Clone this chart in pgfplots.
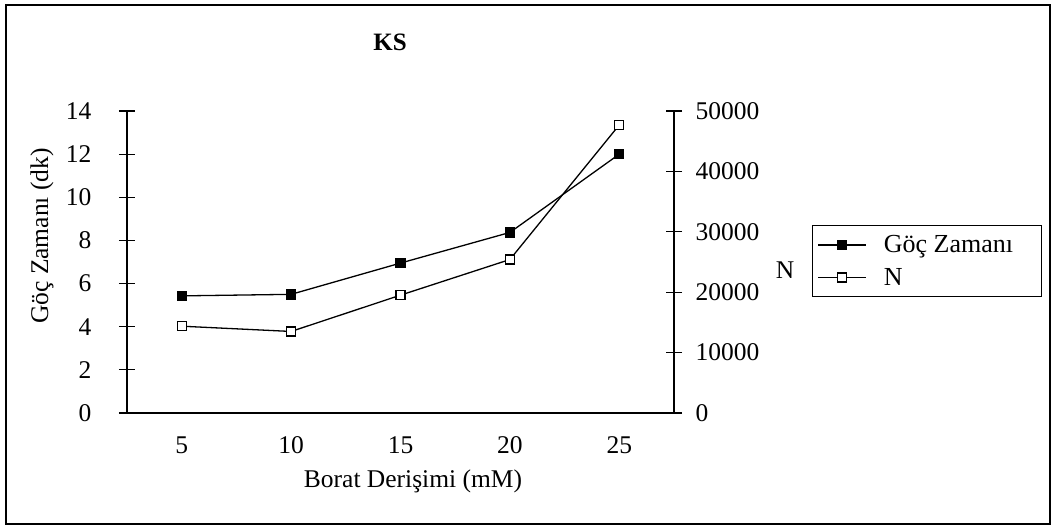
\documentclass[border=0pt]{standalone}
\usepackage{pgfplots}
\pgfplotsset{compat=1.18}
\usepackage{fontspec}
\setmainfont{Liberation Serif}

% Borat derisimi: 5,10,15,20,25 mM -> plotted at 1..5
\pgfplotstableread{
x goc
1 5.43
2 5.50
3 6.95
4 8.37
5 12.0
}\gocdata
\pgfplotstableread{
x N
1 14370
2 13500
3 19510
4 25410
5 47700
}\ndata

\begin{document}
\begin{tikzpicture}[font=\fontsize{25.5bp}{30bp}\selectfont]
\path[use as bounding box] (0,0) rectangle (1052bp,525bp);
\draw[line width=1.4bp] (6bp,1bp) rectangle (1050bp,520bp);

\pgfplotsset{
  every tick label/.append style={font=\fontsize{25.5bp}{30bp}\selectfont},
  /pgf/number format/assume math mode=true,
  /pgf/number format/1000 sep={},
}

\begin{axis}[
  at={(127bp,112bp)}, anchor=south west,
  scale only axis, width=547bp, height=302bp,
  xmin=0.5, xmax=5.5, ymin=0, ymax=14,
  axis x line*=bottom, axis y line*=left,
  axis line style={line width=1.1bp, -},
  xtick={1,...,5}, xticklabels={5,10,15,20,25},
  xtick style={draw=none},
  minor xtick={0.5,1.5,...,5.5},
  ytick={0,2,...,14},
  tick align=center, major tick length=16bp, minor tick length=16bp,
  every tick/.style={black, line width=1.1bp},
  xticklabel style={yshift=-12bp},
  yticklabel style={xshift=-24bp},
  clip=false,
]
\addplot[black, line width=1.3bp, mark=square*, mark size=4.5bp,
  mark options={fill=black}] table[x=x, y=goc] {\gocdata};
\end{axis}

\begin{axis}[
  at={(127bp,112bp)}, anchor=south west,
  scale only axis, width=547bp, height=302bp,
  xmin=0.5, xmax=5.5, ymin=0, ymax=50000,
  axis x line=none, axis y line*=right,
  axis line style={line width=1.1bp, -},
  ytick={0,10000,...,50000},
  scaled y ticks=false,
  tick align=center, major tick length=16bp,
  every tick/.style={black, line width=1.1bp},
  yticklabel style={xshift=10bp},
  legend style={at={(1.2523,0.6225)}, anchor=north west,
    draw=black, line width=1.1bp, inner xsep=5bp, inner ysep=8bp,
    font=\fontsize{26bp}{30bp}\selectfont,
    row sep=10bp},
  legend cell align=left,
  legend image code/.code={%
    \draw[mark repeat=2, mark phase=2, #1]
      plot coordinates {(0bp,0bp) (24bp,0bp) (48bp,0bp)};},
  clip=false,
]
\addlegendimage{black, line width=1.3bp, mark=square*, mark size=4.5bp, mark options={fill=black}}
\addlegendentry{\hspace{15bp}\makebox[151bp][l]{Göç Zamanı}}
\addplot[black, line width=1.3bp, mark=square*, mark size=4.5bp,
  mark options={fill=white}] table[x=x, y=N] {\ndata};
\addlegendentry{\hspace{15bp}N}
\end{axis}

\node[font=\fontsize{25bp}{28bp}\selectfont\bfseries] at (390bp,483bp) {KS};
\node[rotate=90] at (42bp,289bp) {Göç Zamanı (dk)};
\node at (413bp,44bp) {Borat Derişimi (mM)};
\node at (785bp,255bp) {N};
\end{tikzpicture}
\end{document}
